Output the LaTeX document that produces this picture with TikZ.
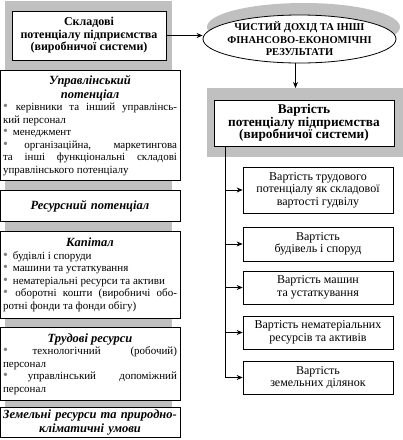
\documentclass[tikz,border=0pt]{standalone}
\usepackage{fontspec}
\setmainfont{Liberation Serif}
\usetikzlibrary{shapes.geometric,arrows.meta,positioning,shadows}
\definecolor{panelgray}{RGB}{192,192,192}
\definecolor{bulletgray}{RGB}{130,130,130}
\setlength{\parindent}{0pt}
\newcommand{\bul}{{\color{bulletgray}\fontsize{14}{12.5}\selectfont\textbullet}\hskip 5pt plus 1pt\relax}
\newcommand{\hd}{\fontsize{12.5}{14}\selectfont\bfseries\itshape}

\begin{document}
\begin{tikzpicture}[x=1pt, y=1pt,
    panel/.style={fill=panelgray, draw=none, inner sep=0pt, outer sep=0pt},
    titlebox/.style={draw, fill=white, line width=1pt, align=center, inner sep=2pt,
                     font=\fontsize{12}{12.5}\selectfont\bfseries},
    listbox/.style={draw, fill=white, line width=1pt, anchor=north, text width=174pt,
                    inner xsep=3pt, inner ysep=2pt, align=justify,
                    font=\fontsize{11}{12.5}\selectfont},
    valbox/.style={draw, fill=white, line width=0.7pt, minimum width=150pt,
                   minimum height=34pt, align=center, inner sep=2pt,
                   font=\fontsize{12}{12.5}\selectfont},
    arr/.style={-{Stealth[length=6pt,width=5pt]}, line width=0.8pt}
]
\useasboundingbox (0,0) rectangle (403,-440);

% gray panels
\node[panel, minimum width=167pt, minimum height=406pt] (lbg) at (88.5,-204) {};
\node[panel, minimum width=196pt, minimum height=69pt] (rbg) at (305,-122.5) {};

% left column
\node[titlebox, minimum width=154pt, minimum height=49pt] (skl) at (89,-35.5)
    {Складові\\потенціалу підприємства\\(виробничої системи)};

\node[listbox, minimum height=110pt] (upr) at (90,-70) {%
    {\centering\hd Управлінський\\ потенціал\par}
    \bul керівники та інший управлінсь-\linebreak кий персонал\\
    \bul менеджмент\\
    \bul організаційна, маркетингова\linebreak та інші функціональні складові\linebreak управлінського потенціалу};

\node[listbox, minimum height=31pt, align=center, font=\hd] (res) at (90,-190)
    {Ресурсний потенціал};

\node[listbox, minimum height=87pt] (kap) at (90,-231) {%
    {\centering\hd Капітал\par}
    \bul будівлі і споруди\\
    \bul машини та устаткування\\
    \bul нематеріальні ресурси та активи\\
    \bul оборотні кошти (виробничі обо-\linebreak ротні фонди та фонди обігу)};

\node[listbox, minimum height=73pt] (trud) at (90,-327) {%
    {\centering\hd Трудові ресурси\par}
    \bul технологічний (робочий)\linebreak персонал\\
    \bul управлінський допоміжний\linebreak персонал};

\node[listbox, minimum height=30pt, align=center, font=\hd] (zem) at (90,-407)
    {Земельні ресурси та природно-\\кліматичні умови};

% right column
\node[ellipse, draw, fill=white, line width=0.8pt, minimum width=193pt,
      minimum height=48pt, inner sep=0pt,
      drop shadow={shadow xshift=4pt, shadow yshift=12pt, opacity=1, fill=panelgray}]
    (ell) at (299.5,-39) {};
\node[align=center, font=\fontsize{10.5}{12.5}\selectfont\bfseries] (elltxt) at (ell.center)
    {ЧИСТИЙ ДОХІД ТА ІНШІ\\ФІНАНСОВО-ЕКОНОМІЧНІ\\РЕЗУЛЬТАТИ};

\node[titlebox, minimum width=180pt, minimum height=46pt,
      font=\fontsize{13.3}{12.5}\selectfont\bfseries] (vart) at (304,-123)
    {Вартість\\потенціалу підприємства\\(виробничої системи)};

\node[valbox, minimum height=46pt] (v1) at (318,-190)
    {Вартість трудового\\потенціалу як складової\\вартості гудвілу};
\node[valbox] (v2) at (318,-244) {Вартість\\будівель і споруд};
\node[valbox, minimum height=33pt] (v3) at (318,-287.5) {Вартість машин\\та устаткування};
\node[valbox, minimum height=33pt] (v4) at (318,-332.5) {Вартість нематеріальних\\ресурсів та активів};
\node[valbox, minimum height=33pt] (v5) at (318,-377.5) {Вартість\\земельних ділянок};

% connectors
\draw[arr] (skl.east) -- (skl.east -| ell.west);
\draw[arr] ([xshift=-4pt]ell.south) -- ([xshift=-4pt]ell.south |- rbg.north);
\coordinate (trunk) at (225,-146);
\draw[line width=0.8pt] (trunk) -- (trunk |- v5.west);
\foreach \v in {v1,v2,v3,v4,v5}
    \draw[arr] (trunk |- \v.west) -- (\v.west);
\end{tikzpicture}
\end{document}
